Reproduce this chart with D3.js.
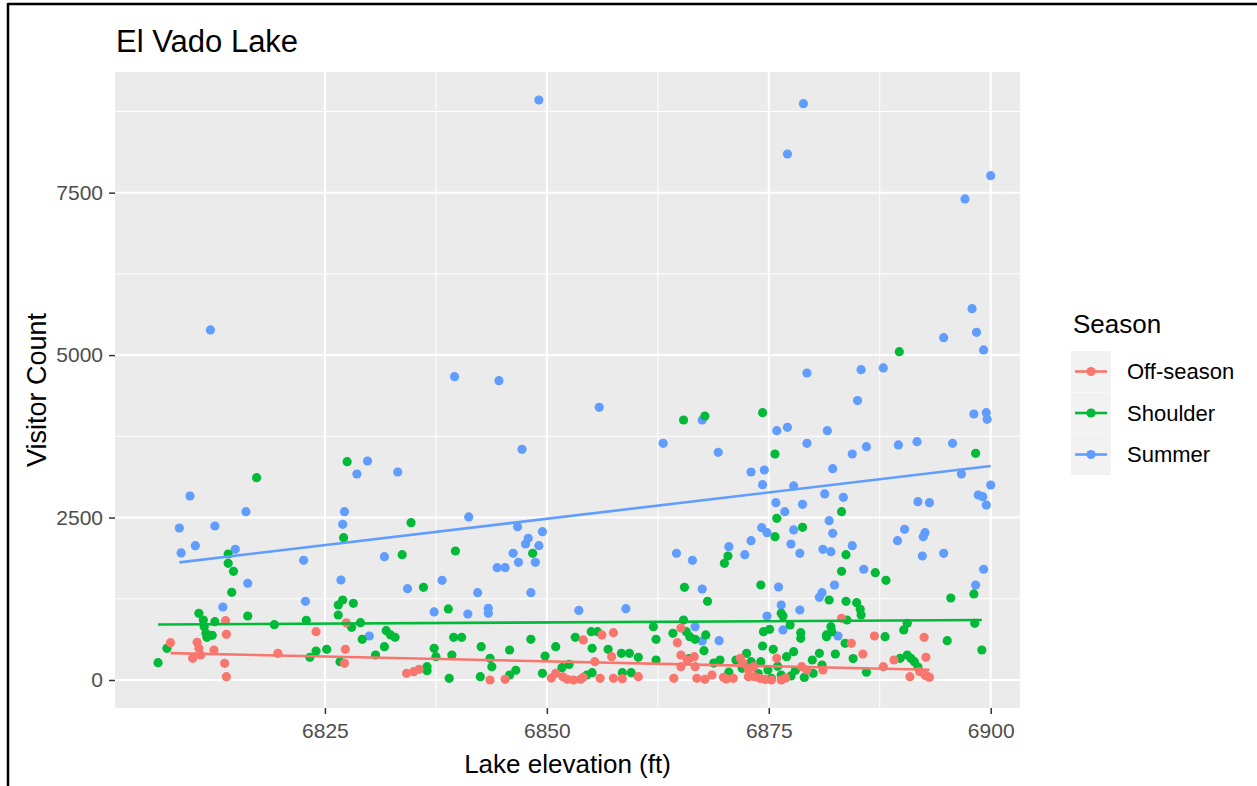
<!DOCTYPE html>
<html>
<head>
<meta charset="utf-8">
<script src="https://cdn.jsdelivr.net/npm/d3@7"></script>
<style>
  body { margin: 0; background: #fff; }
  svg { display: block; }
  text { font-family: "Liberation Sans", Arial, sans-serif; }
</style>
</head>
<body>
<div id="chart"></div>
<script>
// ---- data ----
const seasons = ['Off-season', 'Shoulder', 'Summer']
const seasonColors = ['#F8766D', '#00BA38', '#619CFF']
const xTicks = [6825, 6850, 6875, 6900]
const yTicks = [0, 2500, 5000, 7500]

const offElevation = [6807.6, 6810.6, 6810.8, 6810.1, 6811.0, 6812.5, 6813.8, 6813.9, 6813.7, 6813.9,
  6819.7, 6824.0, 6827.3, 6827.2, 6827.4, 6834.2, 6835.0, 6835.6, 6843.6, 6845.3,
  6851.0, 6852.3, 6853.0, 6854.1, 6856.2, 6857.5, 6857.3, 6855.4, 6854.1, 6856.0,
  6857.5, 6864.7, 6865.1, 6865.1, 6864.3, 6865.8, 6866.6, 6866.7, 6866.9, 6868.6,
  6869.9, 6871.0, 6872.1, 6872.7, 6872.7, 6873.3, 6873.4, 6874.0, 6875.9, 6878.7,
  6881.1, 6875.3, 6876.4, 6860.3, 6871.8, 6865.1, 6883.2, 6884.3, 6885.6, 6886.9,
  6892.5, 6892.7, 6889.1, 6887.9, 6890.9, 6892.0, 6892.6, 6893.1, 6892.8, 6879.3,
  6850.5, 6851.8, 6853.8, 6858.5, 6867.8, 6870.2, 6874.6, 6876.9]
const offVisitors = [574, 580, 488, 334, 385, 462, 913, 703, 257, 51,
  411, 743, 472, 257, 880, 103, 128, 164, 0, 11,
  103, 11, 0, 616, 693, 728, 359, 282, 41, 26,
  26, 574, 385, 205, 26, 308, 359, 205, 26, 77,
  41, 26, 257, 154, 51, 205, 51, 26, 334, 205,
  154, 0, 0, 51, 334, 800, 949, 564, 400, 677,
  657, 349, 308, 205, 51, 128, 77, 41, 60, 154,
  30, 50, 10, 20, 10, 15, 8, 30]

const shoulderElevation = [6889.7, 6817.3, 6827.5, 6827.1, 6814.1, 6814.1, 6814.7, 6814.5, 6810.8, 6811.3,
  6811.4, 6811.6, 6812.3, 6811.7, 6812.6, 6816.3, 6819.3, 6822.9, 6807.2, 6806.2,
  6824.0, 6825.2, 6823.3, 6826.5, 6827.0, 6826.5, 6826.7, 6834.7, 6833.7, 6839.7,
  6836.1, 6838.9, 6828.2, 6829.0, 6828.0, 6829.2, 6831.9, 6832.4, 6832.9, 6831.7,
  6830.7, 6839.5, 6840.4, 6837.3, 6837.5, 6836.5, 6836.5, 6839.3, 6839.0, 6842.6,
  6843.6, 6843.8, 6845.8, 6842.5, 6845.8, 6848.2, 6848.4, 6849.8, 6851.0, 6849.5,
  6851.7, 6853.2, 6865.4, 6867.8, 6874.3, 6875.7, 6875.9, 6875.7, 6878.8, 6870.4,
  6870.0, 6865.5, 6868.1, 6874.1, 6876.4, 6862.0, 6862.3, 6864.2, 6865.4, 6865.7,
  6866.1, 6866.7, 6867.9, 6867.7, 6855.0, 6855.7, 6855.1, 6856.9, 6858.4, 6859.3,
  6860.3, 6862.3, 6854.5, 6855.1, 6858.5, 6859.5, 6869.5, 6871.3, 6872.5, 6874.3,
  6875.5, 6874.4, 6875.1, 6876.6, 6877.4, 6878.6, 6878.6, 6877.8, 6877.0, 6880.7,
  6879.9, 6881.5, 6874.1, 6874.9, 6875.3, 6876.4, 6877.5, 6873.0, 6898.3, 6883.2,
  6883.7, 6883.2, 6887.0, 6888.2, 6881.8, 6883.7, 6884.9, 6885.3, 6885.4, 6895.5,
  6898.1, 6883.8, 6882.0, 6882.1, 6881.5, 6883.6, 6888.1, 6890.2, 6890.6, 6895.1,
  6898.2, 6899.0, 6882.5, 6880.0, 6889.8, 6890.6, 6891.0, 6891.4,
  6872.0, 6873.8, 6876.0, 6878.0, 6879.0, 6870.5, 6868.8, 6866.0, 6881.0, 6884.5,
  6886.0, 6891.8, 6852.5, 6846.5]
const shoulderVisitors = [5053, 3114, 3360, 2190, 1939, 1796, 1673, 1350, 1026, 923,
  820, 718, 688, 657, 897, 985, 851, 918, 488, 266,
  446, 472, 349, 1154, 1231, 1000, 282, 2421, 1929, 1985,
  1426, 1093, 1180, 882, 811, 626, 759, 693, 657, 513,
  385, 657, 657, 488, 359, 205, 143, 385, 26, 513,
  334, 205, 462, 51, 77, 626, 1950, 369, 513, 103,
  190, 657, 4001, 4063, 4114, 3478, 2488, 2206, 2350, 1908,
  1796, 1426, 1211, 1462, 1026, 820, 626, 718, 923, 743,
  667, 626, 693, 451, 743, 743, 488, 472, 411, 411,
  349, 308, 77, 113, 113, 113, 308, 308, 411, 523,
  472, 743, 780, 985, 846, 728, 641, 436, 359, 411,
  308, 693, 282, 154, 26, 77, 62, 282, 3489, 2590,
  1929, 1673, 1652, 1534, 1231, 1211, 1190, 1088, 1000, 1262,
  1324, 923, 820, 743, 667, 564, 667, 770, 872, 605,
  872, 462, 400, 103, 334, 385, 334, 282,
  180, 100, 210, 150, 40, 120, 260, 330, 230, 330,
  120, 200, 240, 150]

const summerElevation = [6849.1, 6812.1, 6839.6, 6844.6, 6878.9, 6877.1, 6900.0, 6897.1, 6897.9, 6898.4,
  6894.7, 6899.2, 6879.3, 6885.4, 6887.9, 6885.0, 6855.9, 6809.8, 6816.1, 6808.6,
  6812.6, 6810.4, 6808.8, 6814.9, 6822.6, 6816.3, 6822.8, 6813.5, 6827.2, 6827.0,
  6826.8, 6829.8, 6828.6, 6833.2, 6841.2, 6846.7, 6849.5, 6847.9, 6847.6, 6849.1,
  6846.2, 6846.8, 6848.7, 6847.2, 6831.7, 6844.4, 6845.3, 6838.2, 6834.3, 6842.2,
  6848.2, 6837.3, 6841.1, 6843.4, 6843.4, 6830.0, 6853.6, 6867.5, 6863.1, 6869.3,
  6875.9, 6877.1, 6879.3, 6873.0, 6874.5, 6874.3, 6877.8, 6875.8, 6876.8, 6878.8,
  6874.2, 6874.8, 6877.8, 6877.5, 6878.5, 6873.0, 6872.3, 6870.5, 6864.6, 6866.4,
  6867.5, 6876.1, 6876.4, 6878.5, 6874.8, 6858.9, 6869.4, 6876.6, 6866.7, 6867.5,
  6898.1, 6899.5, 6899.6, 6881.6, 6884.4, 6886.0, 6889.6, 6891.7, 6895.7, 6882.2,
  6896.7, 6900.0, 6898.6, 6899.1, 6899.5, 6881.3, 6883.4, 6891.8, 6893.1, 6881.8,
  6882.2, 6890.3, 6889.5, 6892.6, 6892.4, 6884.4, 6881.1, 6882.0, 6892.3, 6894.7,
  6885.7, 6899.2, 6882.4, 6898.3, 6881.0, 6880.7, 6882.8]
const summerVisitors = [8926, 5387, 4668, 4606, 8869, 8095, 7762, 7403, 5715, 5351,
  5268, 5079, 4725, 4776, 4802, 4300, 4197, 2832, 2590, 2339,
  2370, 2067, 1955, 2011, 1842, 1488, 1211, 1123, 2590, 2396,
  1539, 3370, 3170, 3201, 2509, 2360, 2283, 2180, 2093, 2067,
  1950, 1811, 1811, 3550, 1898, 1728, 1728, 1534, 1405, 1344,
  1344, 1047, 1016, 1103, 1026, 677, 1070, 4001, 3643, 3504,
  3837, 3889, 3643, 3201, 3232, 3006, 2986, 2729, 2590, 2704,
  2344, 2267, 2309, 2093, 1950, 2144, 1929, 2052, 1950, 1842,
  1400, 1431, 1154, 1077, 985, 1097, 605, 770, 820, 600,
  4094, 4114, 4012, 3837, 3478, 3591, 3617, 3668, 3643, 3252,
  3170, 3001, 2847, 2821, 2693, 2863, 2812, 2744, 2729, 2452,
  2257, 2319, 2144, 2267, 2206, 2067, 2011, 1975, 1908, 1950,
  1704, 1704, 1462, 1462, 1344, 1272, 677]

class Chart {
  constructor (_config, parentElement, groups) {
    this.config = {
      width: _config.width,
      height: _config.height,
      panel: {left: 115, top: 72, right: 1020, bottom: 708},
      parentElement: parentElement
    }
    this.groups = groups
    this.initVis()
  }

  initVis () {
    const vis = this
    const p = vis.config.panel

    vis.svg = d3.select(vis.config.parentElement).append('svg')
      .attr('width', vis.config.width)
      .attr('height', vis.config.height)

    vis.scaleX = d3.scaleLinear().domain([6801.35, 6903.3]).range([p.left, p.right])
    vis.scaleY = d3.scaleLinear().domain([-431, 9357]).range([p.bottom, p.top])
    vis.scaleColor = d3.scaleOrdinal().domain(seasons).range(seasonColors)

    // frame around the figure (only top and left edges show)
    vis.svg.append('line').attr('x1', 8).attr('x2', vis.config.width).attr('y1', 4).attr('y2', 4)
      .attr('stroke', '#000').attr('stroke-width', 2.5)
    vis.svg.append('line').attr('x1', 8).attr('x2', 8).attr('y1', 3).attr('y2', vis.config.height)
      .attr('stroke', '#000').attr('stroke-width', 2.5)

    vis.svg.append('rect')
      .attr('x', p.left).attr('y', p.top)
      .attr('width', p.right - p.left).attr('height', p.bottom - p.top)
      .attr('fill', '#EBEBEB')

    vis.gridG = vis.svg.append('g')
    vis.pointG = vis.svg.append('g')
    vis.lineG = vis.svg.append('g')
    vis.axisXGroup = vis.svg.append('g').attr('transform', `translate(0,${p.bottom})`)
    vis.axisYGroup = vis.svg.append('g').attr('transform', `translate(${p.left},0)`)
    vis.legendG = vis.svg.append('g').attr('transform', 'translate(1071,0)')

    vis.renderVis()
  }

  fit (xs, ys) {
    const mx = d3.mean(xs), my = d3.mean(ys)
    const sxy = d3.sum(xs, (x, i) => (x - mx) * (ys[i] - my))
    const sxx = d3.sum(xs, x => (x - mx) * (x - mx))
    const slope = sxy / sxx
    const x0 = d3.min(xs), x1 = d3.max(xs)
    return [[x0, my + slope * (x0 - mx)], [x1, my + slope * (x1 - mx)]]
  }

  renderVis () {
    const vis = this
    const p = vis.config.panel
    const xMinor = xTicks.slice(0, -1).map(d => d + 12.5)
    const yMinor = yTicks.map(d => d + 1250)

    vis.gridG.selectAll('.xminor').data(xMinor).join('line').attr('class', 'xminor')
      .attr('x1', d => vis.scaleX(d)).attr('x2', d => vis.scaleX(d))
      .attr('y1', p.top).attr('y2', p.bottom)
      .attr('stroke', '#fff').attr('stroke-width', 1)
    vis.gridG.selectAll('.yminor').data(yMinor).join('line').attr('class', 'yminor')
      .attr('y1', d => vis.scaleY(d)).attr('y2', d => vis.scaleY(d))
      .attr('x1', p.left).attr('x2', p.right)
      .attr('stroke', '#fff').attr('stroke-width', 1)
    vis.gridG.selectAll('.xmajor').data(xTicks).join('line').attr('class', 'xmajor')
      .attr('x1', d => vis.scaleX(d)).attr('x2', d => vis.scaleX(d))
      .attr('y1', p.top).attr('y2', p.bottom)
      .attr('stroke', '#fff').attr('stroke-width', 2)
    vis.gridG.selectAll('.ymajor').data(yTicks).join('line').attr('class', 'ymajor')
      .attr('y1', d => vis.scaleY(d)).attr('y2', d => vis.scaleY(d))
      .attr('x1', p.left).attr('x2', p.right)
      .attr('stroke', '#fff').attr('stroke-width', 2)

    vis.groups.forEach(g => {
      vis.pointG.append('g').selectAll('circle')
        .data(g.x.map((x, i) => [x, g.y[i]]))
        .join('circle')
        .attr('cx', d => vis.scaleX(d[0]))
        .attr('cy', d => vis.scaleY(d[1]))
        .attr('r', 4.6)
        .attr('fill', vis.scaleColor(g.season))
    })

    vis.groups.forEach(g => {
      vis.lineG.append('path')
        .datum(vis.fit(g.x, g.y))
        .attr('d', d3.line().x(d => vis.scaleX(d[0])).y(d => vis.scaleY(d[1])))
        .attr('fill', 'none')
        .attr('stroke', vis.scaleColor(g.season))
        .attr('stroke-width', 2.6)
    })

    vis.axisXGroup.call(d3.axisBottom(vis.scaleX).tickValues(xTicks).tickFormat(d3.format('d'))
      .tickSize(6).tickPadding(9))
    vis.axisYGroup.call(d3.axisLeft(vis.scaleY).tickValues(yTicks).tickFormat(d3.format('d'))
      .tickSize(6).tickPadding(6))
    ;[vis.axisXGroup, vis.axisYGroup].forEach(a => {
      a.select('.domain').remove()
      a.selectAll('.tick line').attr('stroke', '#333').attr('stroke-width', 1.5)
      a.selectAll('.tick text').attr('fill', '#4D4D4D').style('font-size', '21px')
        .style('font-family', '"Liberation Sans", Arial, sans-serif')
    })

    vis.svg.append('text').attr('x', 116).attr('y', 52)
      .style('font-size', '31px').attr('fill', '#000').text('El Vado Lake')
    vis.svg.append('text').attr('x', (p.left + p.right) / 2).attr('y', 773)
      .attr('text-anchor', 'middle').style('font-size', '26px').text('Lake elevation (ft)')
    vis.svg.append('text')
      .attr('transform', `translate(46,${(p.top + p.bottom) / 2}) rotate(-90)`)
      .attr('text-anchor', 'middle').style('font-size', '27px').text('Visitor Count')

    vis.legendG.append('text').attr('x', 2).attr('y', 333)
      .style('font-size', '26px').text('Season')
    const keys = vis.legendG.selectAll('.key').data(seasons).join('g').attr('class', 'key')
      .attr('transform', (d, i) => `translate(0,${351 + i * 41.5})`)
    keys.append('rect').attr('width', 40).attr('height', 41).attr('fill', '#F2F2F2')
    keys.append('line').attr('x1', 4).attr('x2', 36).attr('y1', 20.5).attr('y2', 20.5)
      .attr('stroke', d => vis.scaleColor(d)).attr('stroke-width', 2.6)
    keys.append('circle').attr('cx', 20).attr('cy', 20.5).attr('r', 4.6)
      .attr('fill', d => vis.scaleColor(d))
    keys.append('text').attr('x', 56).attr('y', 28).style('font-size', '22px')
      .attr('fill', '#000').text(d => d)
  }
}

const chart = new Chart({width: 1257, height: 786}, '#chart', [
  {season: 'Summer', x: summerElevation, y: summerVisitors},
  {season: 'Shoulder', x: shoulderElevation, y: shoulderVisitors},
  {season: 'Off-season', x: offElevation, y: offVisitors}
])
</script>
</body>
</html>
